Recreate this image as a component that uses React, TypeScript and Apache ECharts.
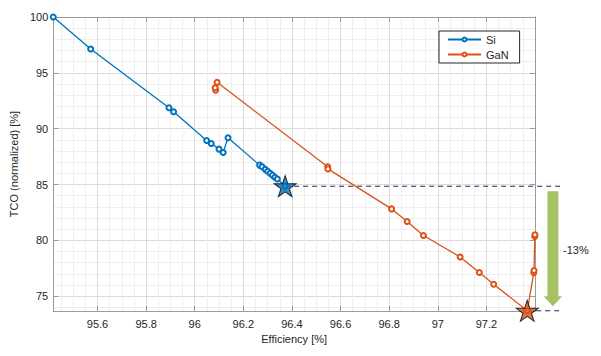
import React, { useEffect, useRef } from "react";
import * as echarts from "echarts";

const siEff = [95.418, 95.572, 95.894, 95.913, 96.049, 96.068, 96.1, 96.117, 96.137, 96.267, 96.277, 96.29, 96.3, 96.31, 96.32, 96.33, 96.34, 96.372];
const siTco = [100, 97.13, 91.87, 91.51, 88.95, 88.68, 88.17, 87.87, 89.19, 86.74, 86.59, 86.36, 86.19, 86.01, 85.84, 85.66, 85.49, 84.85];

const ganEff = [96.086, 96.084, 96.092, 96.547, 96.548, 96.81, 96.874, 96.941, 97.092, 97.171, 97.23, 97.368, 97.395, 97.396, 97.399, 97.4];
const ganTco = [93.45, 93.66, 94.15, 86.6, 86.4, 82.82, 81.69, 80.44, 78.52, 77.12, 76.08, 73.7, 77.1, 77.3, 80.35, 80.5];

const siBest = [96.372, 84.85];
const ganBest = [97.368, 73.7];
const refLineEnd = 97.516;

const xRange = [95.418, 97.4];
const yRange = [73.68, 100];
const xStep = 0.2;
const yStep = 5;

const reductionLabel = "-13%";

const SI_COLOR = "#0072BD";
const GAN_COLOR = "#D95319";
const DASH_COLOR = "#23235e";
const STAR = "path://M50 0L61.23 34.55L97.55 34.55L68.17 55.9L79.39 90.45L50 69.1L20.61 90.45L31.83 55.9L2.45 34.55L38.77 34.55Z";
const FONT = "Liberation Sans, Arial, Helvetica, sans-serif";

export default function App() {
  const ref = useRef<HTMLDivElement>(null);
  useEffect(() => {
    if (!ref.current) return;
    const chart = echarts.init(ref.current, undefined, { renderer: "svg" });
    const axisLineColor = "#9a9a9a";
    const baseX = {
      type: "value",
      min: xRange[0],
      max: xRange[1],
      minInterval: xStep,
      maxInterval: xStep,
      splitNumber: 10,
    };
    const baseY = {
      type: "value",
      min: yRange[0],
      max: yRange[1],
      minInterval: yStep,
      maxInterval: yStep,
      splitNumber: 5,
    };
    const zip = (a: number[], b: number[]) => a.map((v, i) => [v, b[i]]);
    chart.setOption({
      animation: false,
      textStyle: { fontFamily: FONT },
      grid: { left: 50, top: 17, right: 66, bottom: 45, containLabel: false },
      xAxis: [
        {
          ...baseX,
          position: "bottom",
          name: "Efficiency [%]",
          nameLocation: "middle",
          nameGap: 22,
          nameTextStyle: { fontSize: 11, color: "#262626", fontFamily: FONT },
          axisLine: { show: true, lineStyle: { color: axisLineColor, width: 1 } },
          axisTick: { show: true, inside: true, length: 5, lineStyle: { color: axisLineColor } },
          axisLabel: { showMinLabel: false, showMaxLabel: false, fontSize: 11, color: "#262626", margin: 7, fontFamily: FONT },
          splitLine: { show: true, lineStyle: { color: "#dcdcdc", width: 1 } },
          minorTick: { show: false, splitNumber: 4 },
          minorSplitLine: { show: true, lineStyle: { color: "#efefef", width: 1 } },
        },
        {
          ...baseX,
          position: "top",
          axisLine: { show: true, lineStyle: { color: axisLineColor, width: 1 } },
          axisTick: { show: true, inside: true, length: 5, lineStyle: { color: axisLineColor } },
          axisLabel: { show: false },
          splitLine: { show: false },
        },
      ],
      yAxis: [
        {
          ...baseY,
          position: "left",
          name: "TCO (normalized) [%]",
          nameLocation: "middle",
          nameGap: 28,
          nameTextStyle: { fontSize: 11, color: "#262626", fontFamily: FONT },
          axisLine: { show: true, lineStyle: { color: axisLineColor, width: 1 } },
          axisTick: { show: true, inside: true, length: 5, lineStyle: { color: axisLineColor } },
          axisLabel: { showMinLabel: false, fontSize: 11, color: "#262626", margin: 5, fontFamily: FONT },
          splitLine: { show: true, lineStyle: { color: "#dcdcdc", width: 1 } },
          minorTick: { show: false, splitNumber: 5 },
          minorSplitLine: { show: true, lineStyle: { color: "#efefef", width: 1 } },
        },
        {
          ...baseY,
          position: "right",
          axisLine: { show: true, lineStyle: { color: axisLineColor, width: 1 } },
          axisTick: { show: true, inside: true, length: 5, lineStyle: { color: axisLineColor } },
          axisLabel: { show: false },
          splitLine: { show: false },
        },
      ],
      legend: {
        data: ["Si", "GaN"],
        orient: "vertical",
        left: 439,
        top: 31,
        padding: [2, 11, 2, 8],
        itemGap: 2,
        itemWidth: 33,
        itemHeight: 5,
        backgroundColor: "#ffffff",
        borderColor: "#262626",
        borderWidth: 1,
        borderRadius: 0,
        textStyle: { fontSize: 11, color: "#262626", fontFamily: FONT, lineHeight: 13 },
      },
      series: [
        {
          name: "Si",
          type: "line",
          data: zip(siEff, siTco),
          symbol: "emptyCircle",
          symbolSize: 5,
          color: SI_COLOR,
          lineStyle: { color: SI_COLOR, width: 1.3 },
          itemStyle: { color: SI_COLOR, borderWidth: 1.2 },
          z: 3,
        },
        {
          name: "GaN",
          type: "line",
          data: zip(ganEff, ganTco),
          symbol: "emptyCircle",
          symbolSize: 5,
          color: GAN_COLOR,
          lineStyle: { color: GAN_COLOR, width: 1.3 },
          itemStyle: { color: GAN_COLOR, borderWidth: 1.2 },
          z: 3,
        },
        {
          name: "siStar",
          type: "scatter",
          clip: false,
          data: [siBest],
          symbol: STAR,
          symbolSize: [22, 21],
          itemStyle: { color: SI_COLOR, borderColor: "#000", borderWidth: 1 },
          z: 5,
        },
        {
          name: "ganStar",
          type: "scatter",
          clip: false,
          data: [ganBest],
          symbol: STAR,
          symbolSize: [22, 21],
          itemStyle: { color: GAN_COLOR, borderColor: "#000", borderWidth: 1 },
          z: 5,
        },
      ],
    });

    const toPx = (p: number[]) => chart.convertToPixel({ xAxisIndex: 0, yAxisIndex: 0 }, p) as number[];
    const a1 = toPx(siBest);
    const a2 = toPx([refLineEnd, siBest[1]]);
    const b1 = toPx(ganBest);
    const b2 = toPx([refLineEnd, ganBest[1]]);
    const arrowX = (a2[0] + 534.6) / 2 + 4;
    const arrowTop = a1[1] + 5;
    const arrowTip = b1[1] - 4.5;
    const headTop = arrowTip - 10;

    chart.setOption({
      graphic: [
        {
          type: "line",
          shape: { x1: a1[0], y1: a1[1], x2: a2[0], y2: a2[1] },
          style: { stroke: DASH_COLOR, lineWidth: 1, lineDash: [5, 4] },
          z: 1,
          silent: true,
        },
        {
          type: "line",
          shape: { x1: b1[0], y1: b1[1], x2: b2[0], y2: b2[1] },
          style: { stroke: DASH_COLOR, lineWidth: 1, lineDash: [5, 4] },
          z: 1,
          silent: true,
        },
        {
          type: "polygon",
          shape: {
            points: [
              [arrowX - 5.5, arrowTop],
              [arrowX + 5.5, arrowTop],
              [arrowX + 5.5, headTop],
              [arrowX + 9.2, headTop],
              [arrowX, arrowTip],
              [arrowX - 9.2, headTop],
              [arrowX - 5.5, headTop],
            ],
          },
          style: { fill: "#a7c163" },
          z: 10,
        },
        {
          type: "text",
          x: 563,
          y: 250,
          style: {
            text: reductionLabel,
            fontSize: 11,
            fontFamily: FONT,
            fill: "#262626",
            verticalAlign: "middle",
            align: "left",
          },
          z: 10,
        },
      ],
    });
    return () => chart.dispose();
  }, []);
  return (
    <div
      ref={ref}
      style={{ position: "absolute", left: 0, top: 0, width: 601, height: 356, background: "#fff" }}
    />
  );
}
